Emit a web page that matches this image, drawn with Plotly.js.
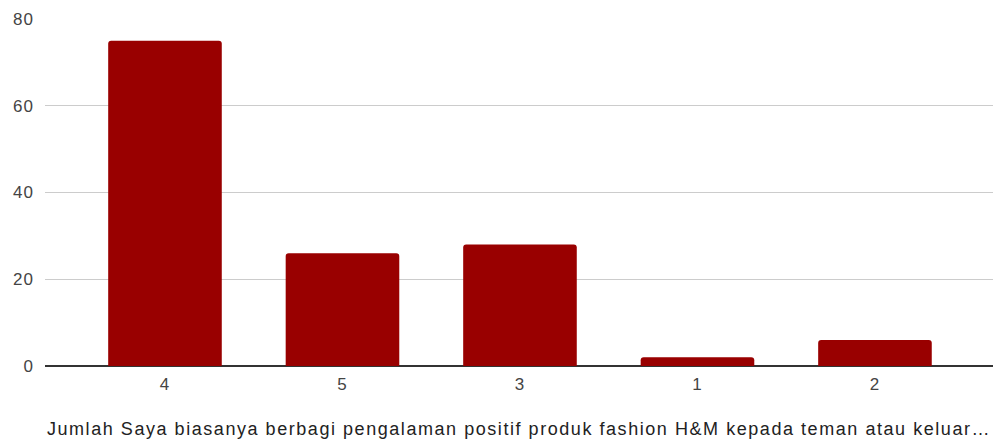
<!DOCTYPE html>
<html>
<head>
<meta charset="utf-8">
<script src="https://cdn.plot.ly/plotly-3.0.1.min.js"></script>
<style>
  html, body { margin: 0; padding: 0; background: #fff; }
  #chart { width: 993px; height: 439px; }
  /* slightly wider lettering for the axis text */
  #chart .xtitle { letter-spacing: 1.55px; }
  #chart .xtick text, #chart .ytick text { letter-spacing: 1px; }
</style>
</head>
<body>
<div id="chart"></div>
<script>
// Response categories in the order they are shown, and their counts
const categories = ['4', '5', '3', '1', '2'];
const counts = [75, 26, 28, 2, 6];
const yTicks = [0, 20, 40, 60, 80];
const xTitle = 'Jumlah Saya biasanya berbagi pengalaman positif produk fashion H&M kepada teman atau keluar…';

const trace = {
  type: 'bar',
  x: categories,
  y: counts,
  width: 0.64,
  marker: { color: '#990000', cornerradius: 3 },
  hoverinfo: 'x+y'
};

const layout = {
  width: 993,
  height: 439,
  margin: { l: 45, r: 0, t: 19, b: 73 },
  paper_bgcolor: '#ffffff',
  plot_bgcolor: '#ffffff',
  font: { family: 'Liberation Sans, Arial, sans-serif', color: '#222222' },
  showlegend: false,
  xaxis: {
    type: 'category',
    range: [-0.676, 4.665],
    showgrid: false,
    showline: false,
    zeroline: false,
    ticks: '',
    ticklabelstandoff: 6,
    tickfont: { size: 17, color: '#444444' },
    title: { text: xTitle, font: { size: 18, color: '#222222' }, standoff: 38 }
  },
  yaxis: {
    range: [0, 80],
    tickvals: yTicks,
    ticktext: yTicks.map(String),
    showgrid: true,
    gridcolor: '#cccccc',
    gridwidth: 1,
    zeroline: true,
    zerolinecolor: '#333333',
    zerolinewidth: 1.5,
    showline: false,
    ticks: '',
    ticklabelstandoff: 10,
    tickfont: { size: 17, color: '#444444' }
  }
};

Plotly.newPlot('chart', [trace], layout, { displayModeBar: false, staticPlot: true });
</script>
</body>
</html>
